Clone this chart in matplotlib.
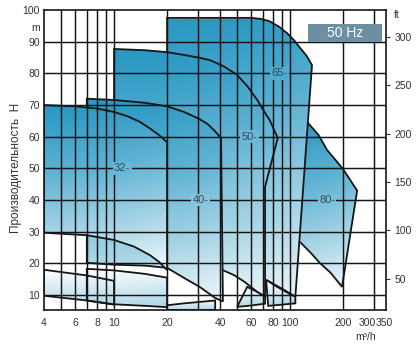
import numpy as np
import matplotlib
matplotlib.use('Agg')
from matplotlib import pyplot as plt
from matplotlib.patches import Polygon, Rectangle
from matplotlib.colors import LinearSegmentedColormap
import matplotlib.transforms as mtransforms

plt.rcParams['font.family'] = ['Liberation Sans', 'DejaVu Sans']

# pump family envelopes, Q (m3/h) / H (m)
q32 = [4, 6, 8, 10, 12, 14, 16, 18, 20, 20, 18, 16, 13, 10, 7, 4]
h32 = [70, 69.6, 68.9, 67.8, 66.4, 64.7, 62.6, 60.5, 58.3, 17.9, 20.5, 22.6, 25.3, 27.4, 28.9, 29.7]

q40 = [7, 10, 15, 20, 25, 30, 34, 37, 40.5, 41.5, 37.5, 30.6, 25, 20, 15, 10, 7]
h40 = [72, 71.6, 70.7, 69.6, 67.8, 65.8, 64, 62, 59.6, 8, 9.1, 12.6, 15.4, 18.6, 19.3, 19.6, 20.2]

q50 = [10, 15, 20, 25, 30, 35, 42, 50, 57, 65, 72, 76.4, 85, 72, 72, 65, 55, 48, 41, 30, 20, 10]
h50 = [87.7, 87.3, 86.7, 85.8, 85, 84.2, 82.2, 79.5, 76, 71.6, 67.5, 65.3, 59.6, 44.2, 9.5, 11, 14.2, 16.3, 18, 21, 24, 27]

q65 = [20, 60, 68, 76, 86, 96, 105, 114, 124, 133, 107, 90, 73, 55, 41, 20]
h65 = [97.5, 97.5, 97.2, 96.5, 94.8, 92.7, 90.5, 88, 85.5, 82.6, 9.5, 12, 14.8, 17.5, 20, 24]

q80 = [126, 145, 162, 180, 200, 240, 197, 170, 147, 130, 115, 100, 100]
h80 = [64.4, 60.5, 55.8, 52.8, 49.7, 43, 12.6, 17, 20.2, 23.5, 26.5, 28, 66]

# smaller models in the lower band
qa = [4, 7, 10, 10, 7, 4]
ha = [18, 16.2, 14.5, 7, 8.3, 9.8]
qb = [7, 10, 15, 20, 20, 15, 10, 7]
hb = [18.3, 17.8, 16.7, 15.5, 6.2, 6.6, 7.1, 8.3]
qc = [20, 25, 30, 37.5, 37.5, 20]
hc = [6.8, 7.4, 7.8, 8.3, 5.3, 5.3]
qd = [50, 57, 64, 72, 72, 60]
hd = [6.3, 12.6, 11.2, 9.5, 7.3, 6.7]
qe = [73, 85, 100, 107, 107, 90, 75]
he = [14.8, 12.5, 10.3, 9.5, 7.4, 7.0, 6.6]

labels = ['32-', '40-', '50-', '65-', '80-']
label_q = [11.1, 31, 59, 87, 162]
label_h = [50, 40, 60, 80, 40]

xticks = [4, 6, 8, 10, 20, 40, 60, 80, 100, 200, 300, 350]
xgrid = [5, 6, 7, 8, 9, 10, 20, 30, 40, 50, 60, 70, 80, 90, 100, 200, 300]
yticks = [10, 20, 30, 40, 50, 60, 70, 80, 90, 100]
ftticks = [50, 100, 150, 200, 250, 300]

ymin, ymax = 5.3, 100
xmin, xmax = 4, 350

blue = LinearSegmentedColormap.from_list(
    'blue', [(0, '#2797c3'), (0.35, '#5cb1d3'), (0.7, '#a8d5e6'), (1, '#f1f8fb')])
pale = LinearSegmentedColormap.from_list(
    'pale', [(0, '#ffffff'), (1, '#acd6e7')])

fig = plt.figure(figsize=(4.19, 3.48), dpi=100)
ax = fig.add_axes([44/419, 1-310/348, 342/419, 300/348])
ax.set_xscale('log')


def region(q, h, cmap, z):
    poly = Polygon(np.column_stack([q, h]), closed=True, fc='none',
                   ec='#151515', lw=1.3, zorder=z + 0.05)
    ax.add_patch(poly)
    nx, ny = 60, 120
    u = np.linspace(0, 1, nx)[None, :]
    v = np.linspace(0, 1, ny)[:, None]
    t = np.clip(0.88 * v + 0.12 * u, 0, 1)
    img = ax.imshow(t, cmap=cmap, vmin=0, vmax=1, aspect='auto',
                    extent=(min(q), max(q), min(h), max(h)),
                    origin='upper', interpolation='bilinear', zorder=z)
    img.set_clip_path(poly)
    return (min(q), max(q), min(h), max(h))


b80 = region(q80, h80, blue, 1.0)
b65 = region(q65, h65, blue, 1.1)
b50 = region(q50, h50, blue, 1.2)
b40 = region(q40, h40, blue, 1.3)
b32 = region(q32, h32, blue, 1.4)
for q, h in [(qc, hc), (qd, hd), (qe, he), (qb, hb), (qa, ha)]:
    region(q, h, pale, 1.5)

# grid on top of the fills
for y in yticks[:-1]:
    ax.axhline(y, color='#151515', lw=1.05, zorder=3)
for x in xgrid:
    ax.axvline(x, color='#151515', lw=1.05, zorder=3)

# family labels, gridline broken behind them
boxes = [b32, b40, b50, b65, b80]
for lab, q, h, b in zip(labels, label_q, label_h, boxes):
    v = (b[3] - h) / (b[3] - b[2])
    u = (np.log10(q) - np.log10(b[0])) / (np.log10(b[1]) - np.log10(b[0]))
    fc = blue(np.clip(0.88 * v + 0.12 * u, 0, 1))
    ax.text(q, h, lab, ha='center', va='center', fontsize=8, color='#34495a',
            zorder=4, bbox=dict(boxstyle='square,pad=0.12', fc=fc, ec='none'))

ax.set_xlim(xmin, xmax)
ax.set_ylim(ymin, ymax)
ax.set_xticks(xticks)
ax.set_xticklabels([str(x) for x in xticks])
ax.minorticks_off()
ax.set_yticks(yticks)
ax.tick_params(axis='x', length=0, pad=6, labelsize=7.5, colors='#333333')
ax.tick_params(axis='y', length=0, pad=3, labelsize=7.5, colors='#333333')
# 300 and 350 sit close together: nudge them apart like the original
xl = ax.get_xticklabels()
xl[-2].set_horizontalalignment('right')
xl[-2].set_transform(xl[-2].get_transform() +
                     mtransforms.ScaledTranslation(2/100, 0, fig.dpi_scale_trans))
xl[-1].set_transform(xl[-1].get_transform() +
                     mtransforms.ScaledTranslation(-2/100, 0, fig.dpi_scale_trans))
for s in ax.spines.values():
    s.set_color('#151515')
    s.set_linewidth(1.2)
    s.set_zorder(5)

ax2 = ax.twinx()
ax2.set_ylim(ymin * 3.2808, ymax * 3.2808)
ax2.set_yticks(ftticks)
ax2.tick_params(axis='y', length=3, pad=3, labelsize=7.5, colors='#333333')
for s in ax2.spines.values():
    s.set_visible(False)

ax.text(-0.012, 0.94, 'm', transform=ax.transAxes, ha='right', va='center',
        fontsize=7.5, color='#333333')
ax.text(1.032, 0.985, 'ft', transform=ax.transAxes, ha='center', va='center',
        fontsize=7.5, color='#333333')
ax.text(0.94, -0.09, 'm³/h', transform=ax.transAxes, ha='center', va='center',
        fontsize=7.5, color='#333333')
fig.text(16/419, 1-168/348, 'Производительность  H', rotation=90,
         ha='center', va='center', fontsize=8.5, color='#333333')

ax.add_patch(Rectangle((0.772, 0.893), 0.216, 0.06, transform=ax.transAxes,
                       fc='#6e8fa3', ec='none', zorder=6))
ax.text(0.88, 0.923, '50 Hz', transform=ax.transAxes, ha='center', va='center',
        fontsize=10, color='white', zorder=7)

fig.savefig('out.png', dpi=100)
